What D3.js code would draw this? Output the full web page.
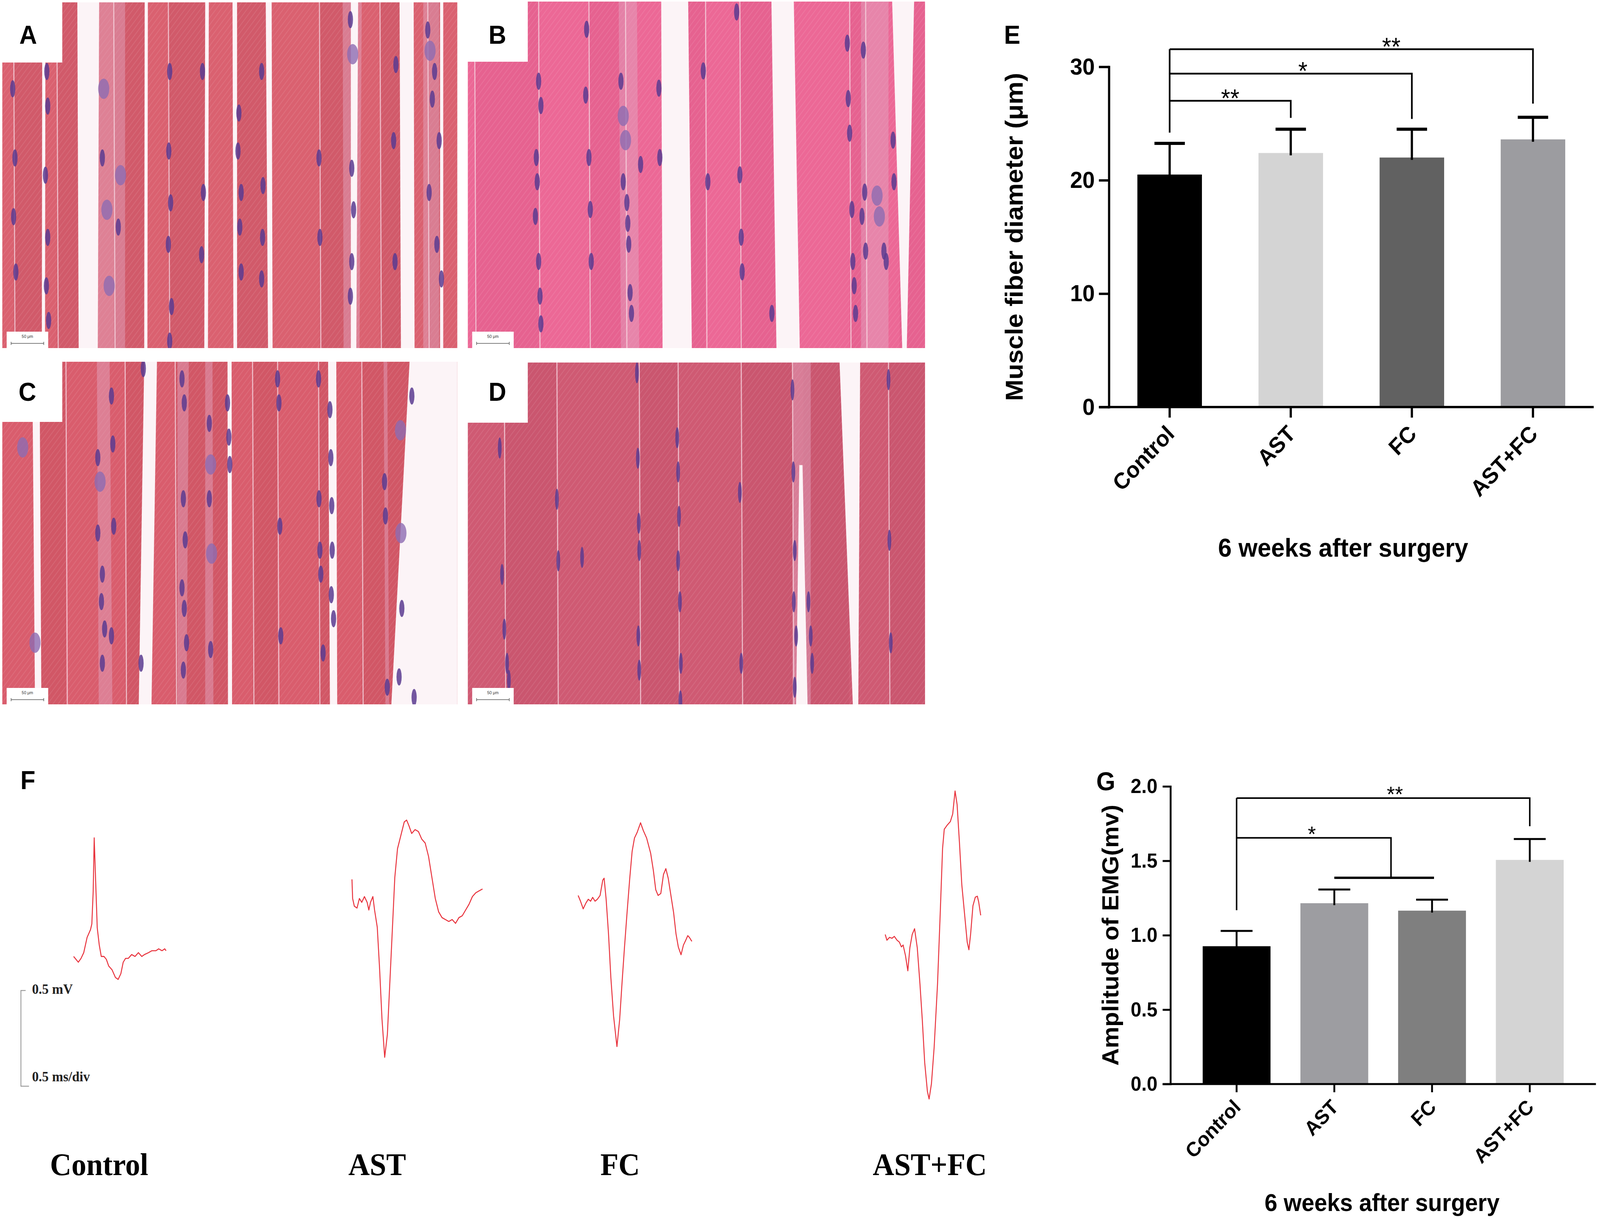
<!DOCTYPE html>
<html><head><meta charset="utf-8">
<script src="https://cdn.jsdelivr.net/npm/d3@7/dist/d3.min.js"></script>
<style>html,body{margin:0;padding:0;background:#fff;overflow:hidden;}svg{display:block;width:100vw;height:100vh;}</style>
</head><body>
<svg id="fig" viewBox="0 0 4317 3123" preserveAspectRatio="none"></svg>
<script>
// ================= DATA =================
const groups = ["Control", "AST", "FC", "AST+FC"];

// Panel E : muscle fiber diameter (µm)
const fiberMean = [20.5, 22.4, 22.0, 23.6];
const fiberSD = [2.75, 2.1, 2.5, 1.95];
const fiberTicks = [0, 10, 20, 30];
// [from group, to group, bracket level, right-leg end, label, label position (group index)]
const fiberSig = [
  [0, 1, 27.0, 25.5, "**", 0.5],
  [0, 2, 29.4, 25.4, "*", 1.1],
  [0, 3, 31.55, 26.75, "**", 1.83]
];
const fiberStemEnd = 24.2;

// Panel G : amplitude of EMG (mV)
const emgMean = [0.926, 1.215, 1.165, 1.506];
const emgSD = [0.103, 0.092, 0.074, 0.14];
const emgTicks = [0, 0.5, 1.0, 1.5, 2.0];
const emgSigAll = [0, 3, 1.921, 1.732, "**", 1.62];
// [from group, join position, level, group-bar level, group-bar from, group-bar to, label, label position]
const emgSigPair = [0, 1.58, 1.654, 1.386, 1.0, 2.02, "*", 0.77];
const emgStemEnd = 1.168;

// Panel F : EMG traces, [time (ms), voltage (mV)] relative to trace start
const emgControl = [[0,0],[0.07,-0.03],[0.11,-0.01],[0.15,0.02],[0.2,0.1],[0.25,0.14],[0.27,0.17],[0.29,0.34],[0.305,0.62],[0.325,0.41],[0.35,0.15],[0.38,0.06],[0.41,0],[0.45,0],[0.485,-0.015],[0.52,-0.05],[0.57,-0.07],[0.62,-0.11],[0.66,-0.12],[0.7,-0.09],[0.735,-0.03],[0.77,-0.01],[0.81,-0.01],[0.86,0.01],[0.91,0],[0.96,0.02],[1.01,0],[1.05,0.01],[1.11,0.02],[1.16,0.03],[1.22,0.03],[1.26,0.04],[1.31,0.03],[1.35,0.04],[1.37,0.03]];
const emgAST = [[0,0],[0.01,-0.1],[0.035,-0.14],[0.075,-0.15],[0.11,-0.1],[0.145,-0.12],[0.185,-0.09],[0.225,-0.12],[0.25,-0.16],[0.275,-0.12],[0.31,-0.09],[0.335,-0.16],[0.375,-0.25],[0.41,-0.47],[0.445,-0.73],[0.485,-0.93],[0.525,-0.81],[0.56,-0.55],[0.595,-0.29],[0.635,0.01],[0.675,0.16],[0.725,0.23],[0.775,0.3],[0.81,0.31],[0.845,0.28],[0.885,0.24],[0.935,0.26],[0.985,0.25],[1.035,0.21],[1.085,0.19],[1.135,0.12],[1.185,0.01],[1.235,-0.1],[1.285,-0.17],[1.335,-0.2],[1.385,-0.21],[1.435,-0.22],[1.485,-0.21],[1.535,-0.23],[1.585,-0.2],[1.635,-0.19],[1.685,-0.16],[1.735,-0.13],[1.785,-0.09],[1.835,-0.07],[1.885,-0.06],[1.935,-0.05]];
const emgFC = [[0,0],[0.035,-0.03],[0.075,-0.07],[0.115,-0.04],[0.15,-0.02],[0.185,-0.03],[0.215,-0.01],[0.25,-0.03],[0.285,-0.02],[0.325,0],[0.365,0.08],[0.385,0.09],[0.415,-0.02],[0.45,-0.2],[0.485,-0.43],[0.525,-0.63],[0.575,-0.79],[0.615,-0.65],[0.65,-0.46],[0.685,-0.28],[0.725,-0.09],[0.765,0.09],[0.8,0.23],[0.835,0.3],[0.875,0.33],[0.925,0.38],[0.965,0.34],[1.015,0.3],[1.075,0.22],[1.115,0.13],[1.15,0.03],[1.185,0],[1.225,0.01],[1.265,0.11],[1.3,0.14],[1.335,0.09],[1.375,0],[1.415,-0.09],[1.45,-0.2],[1.485,-0.27],[1.525,-0.31],[1.56,-0.26],[1.6,-0.23],[1.625,-0.21],[1.65,-0.22],[1.685,-0.24]];
const emgASTFC = [[0,0],[0.025,-0.03],[0.065,-0.015],[0.1,-0.02],[0.135,-0.01],[0.175,-0.03],[0.21,-0.04],[0.24,-0.065],[0.265,-0.055],[0.3,-0.11],[0.335,-0.19],[0.365,-0.07],[0.4,0],[0.435,0.03],[0.475,-0.07],[0.515,-0.26],[0.55,-0.45],[0.585,-0.67],[0.625,-0.82],[0.65,-0.86],[0.685,-0.78],[0.725,-0.59],[0.775,-0.26],[0.815,0.11],[0.85,0.45],[0.875,0.55],[0.915,0.57],[0.965,0.59],[1.0,0.63],[1.035,0.75],[1.065,0.68],[1.1,0.48],[1.135,0.26],[1.175,0.11],[1.215,-0.04],[1.24,-0.08],[1.265,0],[1.3,0.15],[1.335,0.195],[1.365,0.2],[1.385,0.17],[1.415,0.1]];
// trace start on the panel's time / voltage frame [ms, mV]
const traceStart = [[1.091, 0.718], [5.216, 1.121], [8.568, 1.037], [13.119, 0.833]];
const traceLabelTime = [1.47, 5.59, 9.19, 13.78];

// H&E sections (percent of panel width / height)
// gaps: [x top left, x top right, x bottom left, x bottom right, y start]
const gapsA = [[16.5,21.3,16.8,21.0],[8.8,9.5,8.7,9.4],[31.3,32.0,31.2,31.9],[44.6,45.4,44.4,45.2],[50.6,51.6,50.8,51.6],[57.9,59.2,58.4,59.4],[76.6,78.2,76.6,77.8],[87.3,90.4,87.6,90.6],[96.2,96.9,96.2,96.9]];
const paleA = [[21.3,27,21,27],[74.8,79,75,78.5],[92.5,96,92.5,96]];
const membA = [2.5, 12, 24.5, 36.5, 69.7, 83, 93.5];
const nucA = [[2.3,25],[2.8,45],[2.5,62],[3,78],[9.8,20],[10,30],[9.5,50],[10,68],[9.7,82],[10.2,92],[22.3,25,2],[22,45],[23,60,2],[23.5,82,2],[26,50,2],[25.5,65],[36.8,20],[36.6,43],[37,58],[36.5,70],[37.2,88],[36.8,98],[44,20],[44.2,55],[43.8,73],[52,32],[51.8,43],[52.5,55],[52.2,65],[52.5,78],[57,20],[57.3,53],[57.2,68],[57,80],[69.6,45],[69.8,68],[76.5,5],[77,15,2],[76.8,48],[77.2,60],[76.8,75],[76.5,85],[86.5,18],[86,40],[86.3,75],[93.5,8],[94,14,2],[95,20],[94.5,28],[96,40],[93.8,55],[95.5,70],[96.5,80]];

const gapsB = [[42.3,48.2,42.6,49.0],[66.4,71.3,67.5,72.6],[92.8,97.6,95.0,96.0]];
const paleB = [[33,37,33.5,37.5],[86,92,86,92]];
const membB = [1.5, 15.5, 26.5, 34.5, 52, 59.5, 83.5, 87];
const nucB = [[15.5,23],[16,30],[15,45],[15.2,52],[14.8,62],[15.5,75],[15.8,85],[16,93],[26,8],[25.8,27],[26.5,45],[26.8,60],[27,75],[33.5,23],[34,33,2],[34.5,40,2],[34,52],[34.8,58],[35,64],[35.2,70],[35.5,84],[35.8,90],[37.8,47],[41.8,25],[42,45],[51.5,20],[52.5,52],[58.8,3],[59.5,50],[59.8,68],[60,78],[66.5,90],[83,12],[83.2,28],[83.5,38],[84,60],[84.2,75],[84.5,82],[84.8,90],[86.5,14],[86.8,55],[86.2,62],[87,72],[89.5,56,2],[90,62,2],[91,72],[91.5,75],[93,40],[93.2,52]];

const gapsC = [[6.6,8.2,7.2,8.6],[31.2,34.0,30.0,32.8],[49.5,50.4,49.6,50.5],[71.6,73.4,72.0,73.6],[89.5,100,85.5,100]];
const paleC = [[20.8,23.6,21.2,24.2],[38.5,41,38.5,40.5],[44.6,46.2,44.6,46.4],[83.8,84.6,84.2,85]];
const membC = [14, 27, 38, 55, 60.5, 69.5, 79];
const nucC = [[4.5,25,2],[7.2,82,2],[21,28],[21.5,35,2],[21,50],[22,62],[21.8,70],[22.5,78],[22,88],[24,10],[24.3,24],[24.5,48],[24,80],[31,2],[30.5,88],[39.5,5],[40,12],[39.8,40],[40.2,52],[39.5,66],[40,72],[40.5,82],[39.8,90],[45.5,18],[45.8,30,2],[45.5,40],[46,56,2],[45.8,84],[49.5,12],[49.8,22],[50,30],[60.5,5],[60.8,12],[61,48],[61.2,80],[69.5,5],[69.6,40],[69.8,55],[70,62],[70.5,85],[72,14],[72.2,28],[72.4,42],[72.5,55],[72.3,68],[72.8,75],[84,35],[84.2,45],[84.6,95],[87.5,20,2],[87.6,50,2],[87.8,72],[87.2,92],[90,10],[90.5,98]];

const gapsD = [[72.5,73.2,71.8,74.3,30],[81.3,85.8,84.2,85.4]];
const paleD = [[71,75,71,75]];
const membD = [8, 19.5, 37.5, 46, 59.8, 71, 92];
const nucD = [[37,3],[37.2,28],[37.4,47],[37.5,55],[37.3,80],[37.5,90],[45.8,22],[46,32],[46.2,45],[46,58],[46.4,70],[46.6,88],[46.5,99],[7,25],[7.5,62],[8,78],[8.6,88],[9,93],[19.5,40],[19.8,58],[71,8],[71.2,32],[71.5,55],[71.3,70],[71.8,80],[71.5,95],[74.5,70],[75,80],[75.3,88],[92,5],[92.2,52],[92.5,82],[25,57],[59.5,38],[59.8,88]];

// ================= DRAWING =================
const SANS = "'Liberation Sans', Arial, Helvetica, sans-serif";
const SERIF = "'Liberation Serif', 'Times New Roman', serif";
const svg = d3.select("#fig");
svg.append("rect").attr("width", 4317).attr("height", 3123).attr("fill", "#fff");
const defs = svg.append("defs");
const pat = defs.append("pattern").attr("id", "stri").attr("width", 11).attr("height", 11)
  .attr("patternUnits", "userSpaceOnUse").attr("patternTransform", "rotate(38)");
pat.append("line").attr("x1", 0).attr("y1", 0).attr("x2", 0).attr("y2", 11)
  .attr("stroke", "#fff").attr("stroke-width", 3).attr("opacity", 0.13);

// ---------- H&E panels ----------
const hePanels = [
  {label: "A", box: [6, 6, 1228, 885], fill: "#da6170", shade: "#cc5566", gaps: gapsA, pale: paleA, memb: membA, nuc: nucA, thin: false, lx: 70, ly: 106},
  {label: "B", box: [1262, 4, 1234, 887], fill: "#ec6896", shade: "#e35f8c", gaps: gapsB, pale: paleB, memb: membB, nuc: nucB, thin: false, lx: 80, ly: 108},
  {label: "C", box: [6, 926, 1228, 877], fill: "#d95d6d", shade: "#cb5363", gaps: gapsC, pale: paleC, memb: membC, nuc: nucC, thin: false, lx: 68, ly: 100},
  {label: "D", box: [1262, 928, 1234, 875], fill: "#cf5a73", shade: "#c7536c", gaps: gapsD, pale: paleD, memb: membD, nuc: nucD, thin: true, lx: 80, ly: 98}
];

hePanels.forEach(p => {
  const [px, py, pw, ph] = p.box;
  const hx = d3.scaleLinear().domain([0, 100]).range([px, px + pw]);
  const hy = d3.scaleLinear().domain([0, 100]).range([py, py + ph]);
  defs.append("clipPath").attr("id", "clip" + p.label)
    .append("rect").attr("x", px).attr("y", py).attr("width", pw).attr("height", ph);
  const g = svg.append("g").attr("clip-path", `url(#clip${p.label})`);
  g.append("rect").attr("x", px).attr("y", py).attr("width", pw).attr("height", ph).attr("fill", p.fill);
  const bounds = [0, ...p.memb, ...p.gaps.map(d => (d[0] + d[3]) / 2), 100].sort((a, b) => a - b);
  d3.pairs(bounds).forEach(([a, b], i) => {
    if (i % 2) g.append("rect").attr("x", hx(a)).attr("y", py).attr("width", hx(b) - hx(a)).attr("height", ph)
      .attr("fill", p.shade).attr("opacity", 0.6);
  });
  g.append("rect").attr("x", px).attr("y", py).attr("width", pw).attr("height", ph).attr("fill", "url(#stri)");
  const quad = d => `M${hx(d[0])},${hy(d[4] || 0)}L${hx(d[1])},${hy(d[4] || 0)}L${hx(d[3])},${hy(100)}L${hx(d[2])},${hy(100)}Z`;
  g.selectAll(null).data(p.pale).join("path").attr("d", quad).attr("fill", "#e3a9c4").attr("opacity", 0.45);
  g.selectAll(null).data(p.memb).join("line")
    .attr("x1", d => hx(d)).attr("x2", d => hx(d + 0.3)).attr("y1", hy(0)).attr("y2", hy(100))
    .attr("stroke", "#f6d3de").attr("stroke-width", 3).attr("opacity", 0.8);
  g.selectAll(null).data(p.gaps).join("path").attr("d", quad).attr("fill", "#fcf4f7");
  g.selectAll(null).data(p.nuc).join("ellipse")
    .attr("cx", d => hx(d[0])).attr("cy", d => hy(d[1]))
    .attr("rx", d => d[2] === 2 ? 15 : (p.thin ? 5 : 7))
    .attr("ry", d => d[2] === 2 ? 26 : (p.thin ? 27 : 22))
    .attr("fill", d => d[2] === 2 ? "#8d6cb2" : "#5a3b90")
    .attr("opacity", d => d[2] === 2 ? 0.8 : 0.85);
  // label box
  svg.append("rect").attr("x", px - 6).attr("y", py - 6).attr("width", 168).attr("height", 160).attr("fill", "#fff");
  svg.append("text").attr("x", px + p.lx).attr("y", py + p.ly).attr("text-anchor", "middle")
    .attr("font-family", SANS).attr("font-weight", "bold").attr("font-size", 66).text(p.label);
  // scale bar
  const sb = svg.append("g").attr("transform", `translate(${px + 12},${py + ph - 42})`);
  sb.append("rect").attr("width", 112).attr("height", 42).attr("fill", "#fff");
  sb.append("text").attr("x", 56).attr("y", 16).attr("text-anchor", "middle").attr("font-family", SANS)
    .attr("font-size", 11).attr("fill", "#333").text("50 μm");
  sb.append("path").attr("d", "M12,26V34M12,30H100M100,26V34").attr("stroke", "#555").attr("stroke-width", 1.5).attr("fill", "none");
});

// ---------- bar chart helper ----------
function barChart(o) {
  const g = svg.append("g");
  const y = d3.scaleLinear().domain(o.yDomain).range(o.yRange);
  const x = d3.scaleBand().domain(groups).range(o.xRange).paddingInner(o.pi).paddingOuter(o.po);
  const cx = i => x(groups[0]) + x.bandwidth() / 2 + i * x.step();
  g.selectAll("rect.bar").data(groups).join("rect").attr("class", "bar")
    .attr("x", d => x(d)).attr("width", x.bandwidth())
    .attr("y", (d, i) => y(o.means[i])).attr("height", (d, i) => y(0) - y(o.means[i]))
    .attr("fill", (d, i) => o.colors[i]);
  // error bars
  g.selectAll("line.err").data(groups).join("line").attr("class", "err")
    .attr("x1", (d, i) => cx(i)).attr("x2", (d, i) => cx(i))
    .attr("y1", (d, i) => y(o.means[i]) + o.errW).attr("y2", (d, i) => y(o.means[i] + o.sds[i]))
    .attr("stroke", "#000").attr("stroke-width", o.errW);
  g.selectAll("line.cap").data(groups).join("line").attr("class", "cap")
    .attr("x1", (d, i) => cx(i) - o.capLen / 2).attr("x2", (d, i) => cx(i) + o.capLen / 2)
    .attr("y1", (d, i) => y(o.means[i] + o.sds[i])).attr("y2", (d, i) => y(o.means[i] + o.sds[i]))
    .attr("stroke", "#000").attr("stroke-width", o.capW);
  // y axis
  const ya = g.append("g").attr("transform", `translate(${o.xRange[0]},0)`)
    .call(d3.axisLeft(y).tickValues(o.ticks).tickFormat(o.fmt).tickSize(o.tickLen).tickSizeOuter(0).tickPadding(o.tickPad));
  ya.select(".domain").attr("stroke", "#000").attr("stroke-width", o.axisW).attr("stroke-linecap", "square");
  ya.selectAll(".tick line").attr("stroke", "#000").attr("stroke-width", o.axisW);
  ya.selectAll(".tick text").attr("font-family", SANS).attr("font-weight", "bold").attr("font-size", o.tickFont).attr("fill", "#000");
  // x axis
  const xa = g.append("g").attr("transform", `translate(0,${y(0)})`)
    .call(d3.axisBottom(x).tickSize(o.tickLen).tickSizeOuter(0).tickFormat(""));
  xa.select(".domain").attr("d", `M${o.xRange[0] - o.tickLen},0H${o.xRange[1]}`).attr("stroke", "#000").attr("stroke-width", o.axisW);
  xa.selectAll(".tick line").attr("stroke", "#000").attr("stroke-width", o.axisW);
  g.selectAll("text.cat").data(groups).join("text").attr("class", "cat")
    .attr("transform", (d, i) => `translate(${cx(i) + o.catDx},${y(0) + o.catDy}) rotate(-45)`)
    .attr("text-anchor", "end").attr("font-family", SANS).attr("font-weight", "bold")
    .attr("font-size", o.catFont).text(d => d);
  // titles
  g.append("text").attr("transform", `translate(${o.xRange[0] - o.yTitleOff},${(y(o.yDomain[0]) + y(o.yDomain[1])) / 2}) rotate(-90)`)
    .attr("text-anchor", "middle").attr("font-family", SANS).attr("font-weight", "bold")
    .attr("font-size", o.titleFont).text(o.yTitle);
  g.append("text").attr("x", (o.xRange[0] + o.xRange[1]) / 2 + o.xTitleDx).attr("y", o.xTitleY)
    .attr("text-anchor", "middle").attr("font-family", SANS).attr("font-weight", "bold")
    .attr("font-size", o.xTitleFont).text(o.xTitle);
  g.append("text").attr("x", o.panel[0]).attr("y", o.panel[1]).attr("font-family", SANS).attr("font-weight", "bold")
    .attr("font-size", 66).text(o.panel[2]);
  return {g, x, y, cx};
}

// ---------- Panel E ----------
const E = barChart({
  yDomain: [0, 30], yRange: [1042, 171], xRange: [2992, 4300], pi: 0.467, po: 0.235,
  means: fiberMean, sds: fiberSD, colors: ["#000000", "#d4d4d4", "#616161", "#9c9ca0"],
  ticks: fiberTicks, fmt: d3.format("d"), tickLen: 27, tickPad: 11, axisW: 6, errW: 6, capW: 8, capLen: 82,
  tickFont: 60, catFont: 58, catDx: 16, catDy: 72,
  yTitle: "Muscle fiber diameter (μm)", yTitleOff: 233, titleFont: 66,
  xTitle: "6 weeks after surgery", xTitleDx: -22, xTitleY: 1425, xTitleFont: 66,
  panel: [2709, 112, "E"]
});
{
  const {g, y, cx} = E;
  const top = d3.max(fiberSig, d => d[2]);
  g.append("line").attr("x1", cx(0)).attr("x2", cx(0)).attr("y1", y(top)).attr("y2", y(fiberStemEnd))
    .attr("stroke", "#000").attr("stroke-width", 4.5);
  fiberSig.forEach(s => {
    g.append("path").attr("d", `M${cx(s[0])},${y(s[2])}H${cx(s[1])}V${y(s[3])}`)
      .attr("fill", "none").attr("stroke", "#000").attr("stroke-width", 4.5);
    g.append("text").attr("x", cx(s[5])).attr("y", y(s[2]) + 16).attr("text-anchor", "middle")
      .attr("font-family", SANS).attr("font-size", 64).text(s[4]);
  });
}

// ---------- Panel G ----------
const G = barChart({
  yDomain: [0, 2], yRange: [2775, 2013], xRange: [3158, 4306], pi: 0.306, po: 0.33,
  means: emgMean, sds: emgSD, colors: ["#000000", "#9d9da1", "#7f7f7f", "#d4d4d4"],
  ticks: emgTicks, fmt: d3.format(".1f"), tickLen: 21, tickPad: 14, axisW: 5, errW: 5, capW: 5, capLen: 86,
  tickFont: 52, catFont: 52, catDx: 14, catDy: 62,
  yTitle: "Amplitude of EMG(mv)", yTitleOff: 140, titleFont: 62,
  xTitle: "6 weeks after surgery", xTitleDx: -3, xTitleY: 3100, xTitleFont: 62,
  panel: [2958, 2023, "G"]
});
{
  const {g, y, cx} = G;
  const s = emgSigAll, p = emgSigPair;
  g.append("line").attr("x1", cx(0)).attr("x2", cx(0)).attr("y1", y(s[2])).attr("y2", y(emgStemEnd))
    .attr("stroke", "#000").attr("stroke-width", 4);
  g.append("path").attr("d", `M${cx(s[0])},${y(s[2])}H${cx(s[1])}V${y(s[3])}`)
    .attr("fill", "none").attr("stroke", "#000").attr("stroke-width", 4);
  g.append("text").attr("x", cx(s[5])).attr("y", y(s[2]) + 9).attr("text-anchor", "middle")
    .attr("font-family", SANS).attr("font-size", 56).text(s[4]);
  g.append("path").attr("d", `M${cx(p[0])},${y(p[2])}H${cx(p[1])}V${y(p[3])}`)
    .attr("fill", "none").attr("stroke", "#000").attr("stroke-width", 4);
  g.append("line").attr("x1", cx(p[4])).attr("x2", cx(p[5])).attr("y1", y(p[3])).attr("y2", y(p[3]))
    .attr("stroke", "#000").attr("stroke-width", 6);
  g.append("text").attr("x", cx(p[7])).attr("y", y(p[2]) + 9).attr("text-anchor", "middle")
    .attr("font-family", SANS).attr("font-size", 56).text(p[6]);
}

// ---------- Panel F ----------
{
  const xF = d3.scaleLinear().domain([0, 1]).range([0, 182.06]);
  const yF = d3.scaleLinear().domain([0, 1]).range([2800, 2310.3]);
  const g = svg.append("g");
  const traces = [emgControl, emgAST, emgFC, emgASTFC];
  traces.forEach((tr, i) => {
    const [t0, v0] = traceStart[i];
    const line = d3.line().x(d => xF(d[0] + t0)).y(d => yF(d[1] + v0));
    g.append("path").attr("d", line(tr)).attr("fill", "none").attr("stroke", "#e8323c")
      .attr("stroke-width", 2.6).attr("stroke-linejoin", "round");
  });
  groups.forEach((name, i) => {
    g.append("text").attr("x", xF(traceLabelTime[i])).attr("y", 3008).attr("text-anchor", "middle")
      .attr("font-family", SERIF).attr("font-weight", "bold").attr("font-size", 80).text(name);
  });
  // calibration bar: 0.5 mV
  const sbT = 0.31, sbV = 0.04;
  g.append("path")
    .attr("d", `M${xF(sbT + 0.07)},${yF(sbV + 0.5)}H${xF(sbT)}V${yF(sbV)}H${xF(sbT + 0.12)}`)
    .attr("fill", "none").attr("stroke", "#8a8a8a").attr("stroke-width", 2);
  g.append("text").attr("x", xF(sbT) + 30).attr("y", yF(sbV + 0.5) + 8).attr("font-family", SERIF)
    .attr("font-weight", "bold").attr("font-size", 36).attr("fill", "#222").text("0.5 mV");
  g.append("text").attr("x", xF(sbT) + 30).attr("y", yF(sbV) - 12).attr("font-family", SERIF)
    .attr("font-weight", "bold").attr("font-size", 36).attr("fill", "#222").text("0.5 ms/div");
  g.append("text").attr("x", 55).attr("y", 2020).attr("font-family", SANS).attr("font-weight", "bold")
    .attr("font-size", 66).text("F");
}
</script>
</body></html>
